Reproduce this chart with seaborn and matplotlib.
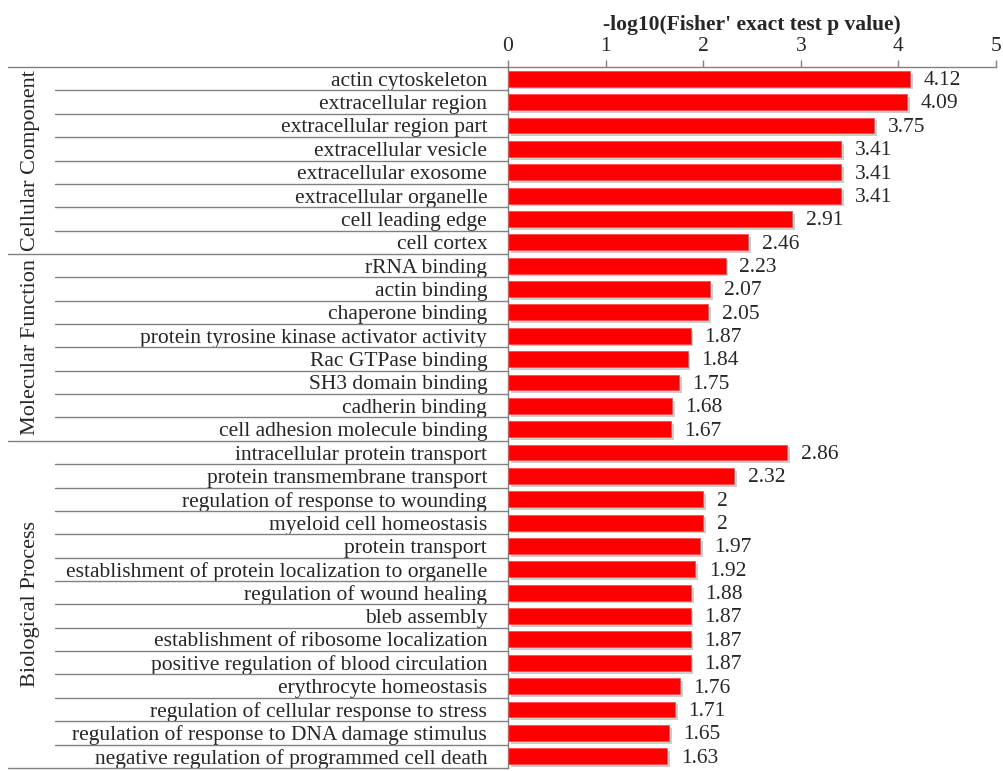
import pandas as pd
import numpy as np
import matplotlib
matplotlib.use('Agg')
import matplotlib.pyplot as plt
import matplotlib.patheffects as pe
import matplotlib.transforms as mtransforms
import seaborn as sns

# GO enrichment data
cc_terms = ['actin cytoskeleton', 'extracellular region', 'extracellular region part',
            'extracellular vesicle', 'extracellular exosome', 'extracellular organelle',
            'cell leading edge', 'cell cortex']
cc_values = [4.12, 4.09, 3.75, 3.41, 3.41, 3.41, 2.91, 2.46]

mf_terms = ['rRNA binding', 'actin binding', 'chaperone binding',
            'protein tyrosine kinase activator activity', 'Rac GTPase binding',
            'SH3 domain binding', 'cadherin binding', 'cell adhesion molecule binding']
mf_values = [2.23, 2.07, 2.05, 1.87, 1.84, 1.75, 1.68, 1.67]

bp_terms = ['intracellular protein transport', 'protein transmembrane transport',
            'regulation of response to wounding', 'myeloid cell homeostasis',
            'protein transport', 'establishment of protein localization to organelle',
            'regulation of wound healing', 'bleb assembly',
            'establishment of ribosome localization', 'positive regulation of blood circulation',
            'erythrocyte homeostasis', 'regulation of cellular response to stress',
            'regulation of response to DNA damage stimulus',
            'negative regulation of programmed cell death']
bp_values = [2.86, 2.32, 2, 2, 1.97, 1.92, 1.88, 1.87, 1.87, 1.87, 1.76, 1.71, 1.65, 1.63]

groups = ['Cellular Component', 'Molecular Function', 'Biological Process']
x_ticks = [0, 1, 2, 3, 4, 5]

df = pd.DataFrame({
    'term': cc_terms + mf_terms + bp_terms,
    'value': cc_values + mf_values + bp_values,
    'group': [groups[0]] * len(cc_terms) + [groups[1]] * len(mf_terms) + [groups[2]] * len(bp_terms),
})

sns.set_style('white')
plt.rcParams['font.family'] = ['Liberation Serif', 'DejaVu Serif']

fig = plt.figure(figsize=(10.04, 7.71), dpi=100)
ax = fig.add_axes([0.506, 0.004, 0.486, 0.909])

sns.barplot(data=df, y='term', x='value', orient='h', color='#FF0000',
            saturation=1, width=0.68, ax=ax, edgecolor='#FF4040', linewidth=0.5)

for p in ax.patches:
    p.set_path_effects([pe.SimplePatchShadow(offset=(2, -2), shadow_rgbFace='#C0C0C0', alpha=0.8),
                        pe.Normal()])

for i, v in enumerate(df['value']):
    ax.text(v + 0.14, i + 0.08, '%g' % v, va='center', ha='left', fontsize=15.5)

n = len(df)
ax.set_ylim(n - 0.5, -0.5)
ax.set_xlim(0, 5)
ax.xaxis.tick_top()
ax.xaxis.set_label_position('top')
ax.set_xticks(x_ticks)
ax.set_xticklabels([str(t) for t in x_ticks], fontsize=15.5)
ax.tick_params(axis='x', direction='out', length=5, width=1, color='#808080', pad=3)
ax.tick_params(axis='y', length=0, pad=15, labelsize=15.5)
ax.set_xlabel("-log10(Fisher' exact test p value)", fontsize=15.5, fontweight='bold', labelpad=5)
ax.set_ylabel('')

for s in ['right', 'bottom']:
    ax.spines[s].set_visible(False)
for s in ['top', 'left']:
    ax.spines[s].set_color('#808080')
    ax.spines[s].set_linewidth(1)

# category separators like an Excel multi-level axis
trans = mtransforms.blended_transform_factory(ax.transAxes, ax.transData)
bounds = [len(cc_terms), len(cc_terms) + len(mf_terms)]
for k in range(n + 1):
    y = k - 0.5
    if k == 0 or k == n or k in bounds:
        x0 = -1.025
    else:
        x0 = -0.928
    ax.plot([x0, 0], [y, y], color='#808080', lw=1, transform=trans, clip_on=False)

# group labels
starts = [0, len(cc_terms), len(cc_terms) + len(mf_terms)]
sizes = [len(cc_terms), len(mf_terms), len(bp_terms)]
for g, st, sz in zip(groups, starts, sizes):
    ax.text(-0.978, st + sz / 2 - 0.5, g, rotation=90, va='center', ha='center',
            fontsize=16, transform=trans)

fig.savefig('out.png', dpi=100)
